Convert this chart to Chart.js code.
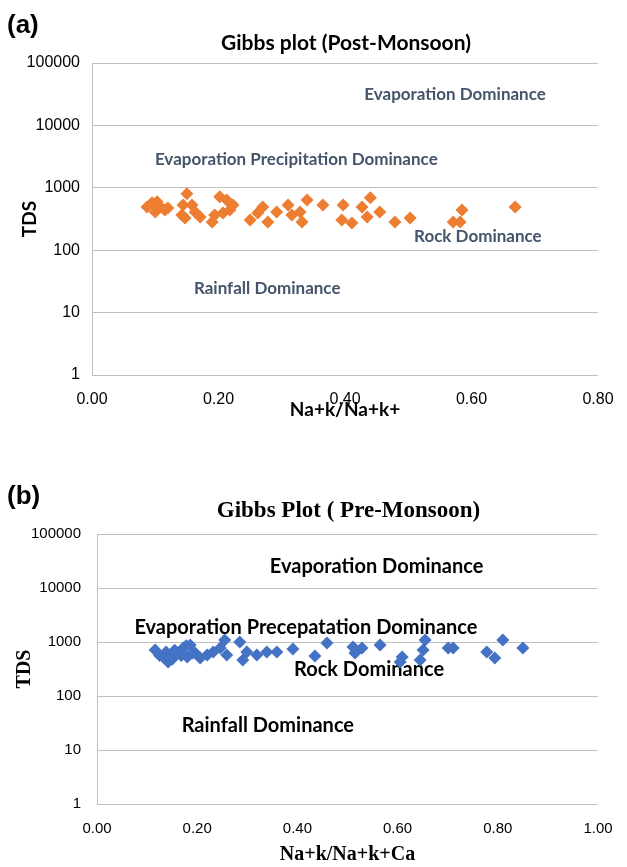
<!DOCTYPE html>
<html>
<head>
<meta charset="utf-8">
<script src="https://cdn.jsdelivr.net/npm/chart.js@4.4.1/dist/chart.umd.min.js"></script>
<style>
  body { margin: 0; background: #fff; }
  #wrap { position: relative; width: 627px; height: 867px; }
  canvas { position: absolute; left: 0; }
  #chart_post { top: 0; }
  #chart_pre { top: 433px; }
</style>
</head>
<body>
<div id="wrap">
  <canvas id="chart_post" width="627" height="433"></canvas>
  <canvas id="chart_pre" width="627" height="434"></canvas>
</div>
<script>
// (a) post-monsoon
let postX = [0.087, 0.095, 0.103, 0.108, 0.100, 0.115, 0.120,
    0.150, 0.144, 0.142, 0.158, 0.163, 0.147, 0.171,
    0.190, 0.194, 0.202, 0.213, 0.218, 0.207, 0.223,
    0.250, 0.262, 0.270, 0.278, 0.292, 0.310, 0.316, 0.329, 0.332, 0.340, 0.365,
    0.397, 0.395, 0.411, 0.427, 0.440, 0.435, 0.455, 0.479, 0.503, 0.571, 0.585, 0.582, 0.669];
let postTDS = [494, 574, 595, 494, 410, 442, 476,
    800, 532, 367, 532, 410, 328, 340,
    283, 367, 716, 640, 442, 395, 532,
    305, 395, 494, 283, 410, 532, 367, 410, 283, 640, 532,
    532, 305, 272, 494, 690, 340, 410, 283, 328, 283, 442, 283, 494];
let postNotes = ['Evaporation Dominance', 'Evaporation Precipitation Dominance', 'Rock Dominance', 'Rainfall Dominance'];
let postNoteX = [0.574, 0.323, 0.61, 0.277];
let postNoteY = [31600, 2830, 168, 24.4];

// (b) pre-monsoon
let preX = [0.116, 0.132, 0.142, 0.160, 0.172, 0.180, 0.186, 0.196, 0.206, 0.220, 0.232, 0.246,
    0.255, 0.259, 0.285, 0.299, 0.291, 0.319, 0.339, 0.359, 0.391, 0.435, 0.459,
    0.125, 0.138, 0.150, 0.155, 0.168, 0.178, 0.190, 0.145,
    0.511, 0.515, 0.529, 0.565, 0.609, 0.605, 0.655, 0.651, 0.645, 0.701, 0.711, 0.778, 0.794, 0.810, 0.850];
let preTDS = [711, 527, 426, 626, 774, 527, 880, 626, 506, 574, 653, 774,
    1089, 574, 1000, 653, 464, 574, 653, 653, 742, 550, 958,
    560, 650, 480, 700, 560, 850, 620, 520,
    808, 626, 774, 880, 527, 426, 1089, 711, 464, 774, 774, 653, 506, 1089, 774];
let preNotes = ['Evaporation Dominance', 'Evaporation Precepatation Dominance', 'Rock Dominance', 'Rainfall Dominance'];
let preNoteX = [0.558, 0.417, 0.543, 0.341];
let preNoteY = [24600, 1816, 303, 27.8];

let logTicks = [1, 10, 100, 1000, 10000, 100000];

function puntos(xs, ys) {
    return xs.map((x, i) => ({x: x, y: ys[i]}));
}

// panel letter, title, axis titles and the region labels
let textos = {
    id: 'textos',
    beforeDatasetsDraw(chart, args, o) {
        let c = chart.ctx;
        let sx = chart.scales.x, sy = chart.scales.y;
        c.save();
        c.fillStyle = o.noteColor;
        c.font = o.noteFont;
        c.textAlign = 'center';
        c.textBaseline = 'middle';
        o.notes.forEach((t, i) => {
            c.fillText(t, sx.getPixelForValue(o.noteX[i]), sy.getPixelForValue(o.noteY[i]));
        });
        c.restore();
    },
    afterDraw(chart, args, o) {
        let c = chart.ctx, a = chart.chartArea;
        let mid = (a.left + a.right) / 2;
        c.save();
        c.fillStyle = '#000';
        c.textBaseline = 'middle';
        c.textAlign = 'left';
        c.font = 'bold 26px "Liberation Sans", Arial';
        c.fillText(o.panel, 7, o.panelY);
        c.textAlign = 'center';
        c.font = o.titleFont;
        c.fillText(o.title, mid + o.titleShift, o.titleY);
        c.font = o.axisFont;
        c.fillText(o.xTitle, mid, o.xTitleY);
        c.translate(o.yTitleX, (a.top + a.bottom) / 2);
        c.rotate(-Math.PI / 2);
        c.fillText('TDS', 0, 0);
        c.restore();
    }
};

function opciones(cfg) {
    return {
        responsive: false,
        devicePixelRatio: 1,
        animation: false,
        layout: {padding: {left: 0, right: cfg.right, top: cfg.top, bottom: 0}},
        scales: {
            x: {
                type: 'linear',
                min: 0,
                max: cfg.xMax,
                afterBuildTicks: s => { s.ticks = cfg.xTicks.map(v => ({value: v})); },
                afterFit: s => { s.height = cfg.xHeight; },
                grid: {display: false},
                border: {display: false},
                ticks: {
                    padding: cfg.xPad,
                    color: '#000',
                    font: {family: '"Liberation Sans", Arial', size: cfg.tickSize},
                    callback: v => v.toFixed(2)
                }
            },
            y: {
                type: 'logarithmic',
                min: 1,
                max: 100000,
                afterBuildTicks: s => { s.ticks = logTicks.map(v => ({value: v})); },
                afterFit: s => { s.width = cfg.yWidth; },
                grid: {color: '#bfbfbf', lineWidth: 1, drawTicks: false},
                border: {display: true, color: '#bfbfbf'},
                ticks: {
                    padding: cfg.yPad,
                    color: '#000',
                    font: {family: '"Liberation Sans", Arial', size: cfg.tickSize},
                    callback: v => String(v)
                }
            }
        },
        plugins: {
            legend: {display: false},
            tooltip: {enabled: false},
            textos: cfg.textos
        }
    };
}

let post = new Chart(document.getElementById('chart_post'), {
    type: 'scatter',
    data: {datasets: [{
        label: 'Post-Monsoon',
        data: puntos(postX, postTDS),
        pointStyle: 'rectRot',
        pointRadius: 6.5,
        backgroundColor: '#ED7D31',
        borderColor: '#ED7D31',
        borderWidth: 0
    }]},
    options: opciones({
        right: 29, top: 63, xMax: 0.8, xTicks: [0, 0.2, 0.4, 0.6, 0.8], xHeight: 58, yWidth: 92,
        xPad: 7, yPad: 12, tickSize: 16,
        textos: {
            panel: '(a)', panelY: 26,
            title: 'Gibbs plot (Post-Monsoon)', titleY: 43, titleShift: 1,
            titleFont: 'bold 21px Lato, "Open Sans"',
            xTitle: 'Na+k/Na+k+', xTitleY: 410,
            axisFont: 'bold 19px Lato, "Open Sans"', yTitleX: 30,
            notes: postNotes, noteX: postNoteX, noteY: postNoteY,
            noteColor: '#44546A', noteFont: 'bold 17px Lato, "Open Sans"'
        }
    }),
    plugins: [textos]
});

let pre = new Chart(document.getElementById('chart_pre'), {
    type: 'scatter',
    data: {datasets: [{
        label: 'Pre-Monsoon',
        data: puntos(preX, preTDS),
        pointStyle: 'rectRot',
        pointRadius: 6.5,
        backgroundColor: '#4472C4',
        borderColor: '#4472C4',
        borderWidth: 0
    }]},
    options: opciones({
        right: 29, top: 101, xMax: 1.0, xTicks: [0, 0.2, 0.4, 0.6, 0.8, 1.0], xHeight: 63, yWidth: 97,
        xPad: 8, yPad: 16, tickSize: 15,
        textos: {
            panel: '(b)', panelY: 64,
            title: 'Gibbs Plot ( Pre-Monsoon)', titleY: 78, titleShift: 1,
            titleFont: 'bold 23px "Liberation Serif", "Times New Roman"',
            xTitle: 'Na+k/Na+k+Ca', xTitleY: 422,
            axisFont: 'bold 20px "Liberation Serif", "Times New Roman"', yTitleX: 25,
            notes: preNotes, noteX: preNoteX, noteY: preNoteY,
            noteColor: '#000', noteFont: 'bold 20px Lato, "Open Sans"'
        }
    }),
    plugins: [textos]
});
</script>
</body>
</html>
